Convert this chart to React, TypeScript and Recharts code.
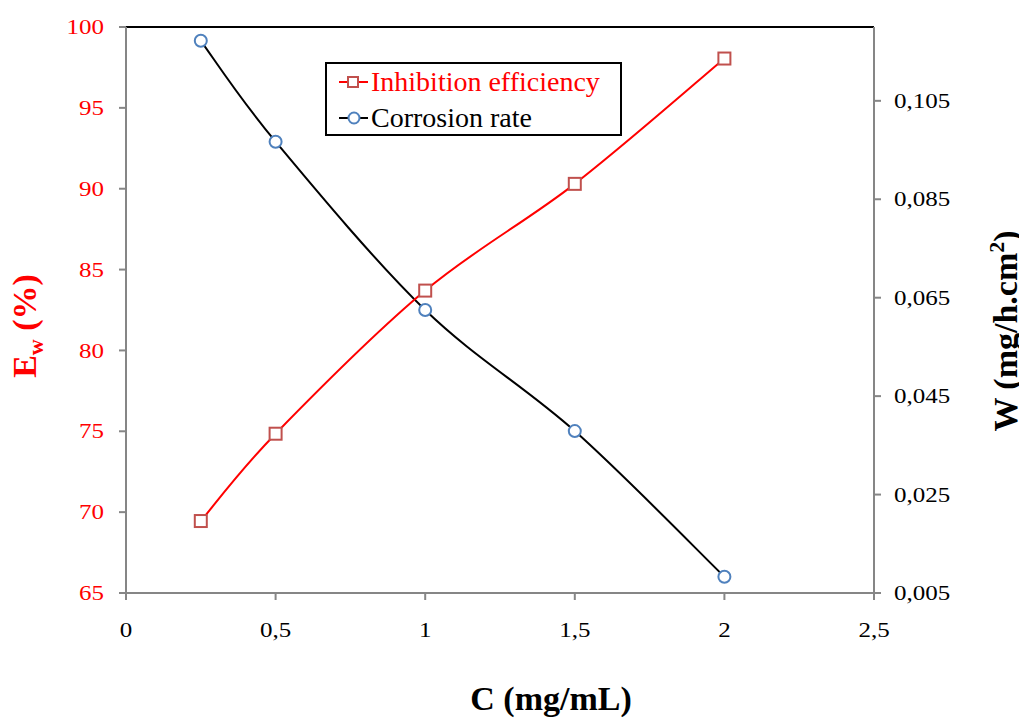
import React from 'react';
import { LineChart, Line, XAxis, YAxis, Legend, ReferenceLine, Label } from 'recharts';

const cValues = [0.25, 0.5, 1, 1.5, 2];
const efficiency = [69.45, 74.85, 83.7, 90.3, 98.05];
const corrosionRate = [0.1172, 0.0967, 0.0625, 0.0379, 0.0083];
const xTicks = [0, 0.5, 1, 1.5, 2, 2.5];
const leftTicks = [65, 70, 75, 80, 85, 90, 95, 100];
const rightTicks = [0.005, 0.025, 0.045, 0.065, 0.085, 0.105];

const data = cValues.map((c, i) => ({ c, eff: efficiency[i], cr: corrosionRate[i] }));

const FONT = "'Liberation Serif', 'Times New Roman', serif";
const AXIS_GRAY = '#868686';
const W = 1019;
const H = 710;

// Excel-like smoothing (Catmull-Rom bezier)
const excelCurve = (context: any) => {
  let pts: number[][] = [];
  return {
    areaStart() {},
    areaEnd() {},
    lineStart() { pts = []; },
    point(x: number, y: number) { pts.push([+x, +y]); },
    lineEnd() {
      if (!pts.length) return;
      context.moveTo(pts[0][0], pts[0][1]);
      for (let i = 0; i < pts.length - 1; i++) {
        const p0 = pts[i - 1] || pts[i];
        const p1 = pts[i];
        const p2 = pts[i + 1];
        const p3 = pts[i + 2] || p2;
        context.bezierCurveTo(
          p1[0] + (p2[0] - p0[0]) / 6, p1[1] + (p2[1] - p0[1]) / 6,
          p2[0] - (p3[0] - p1[0]) / 6, p2[1] - (p3[1] - p1[1]) / 6,
          p2[0], p2[1]
        );
      }
    },
  };
};

const fmtComma = (v: number) => String(v).replace('.', ',');
const fmtRight = (v: number) => v.toFixed(3).replace('.', ',');

const makeTick = (anchor: string, color: string, fmt: (v: number) => string) => (props: any) => {
  const { x, y, payload } = props;
  return (
    <text
      transform={`translate(${x}, ${y}) scale(1.22, 1)`}
      x={0}
      y={0}
      dy="0.35em"
      textAnchor={anchor}
      fill={color}
      fontSize={20.5}
      fontFamily={FONT}
    >
      {fmt(payload.value)}
    </text>
  );
};

const SquareDot = (props: any) => {
  const { cx, cy, index } = props;
  if (cx == null || cy == null) return null;
  return <rect key={`sq-${index}`} x={cx - 6} y={cy - 6} width={12} height={12} fill="#fff" stroke="#C0504D" strokeWidth={2} />;
};

const renderLegend = () => (
  <div style={{ width: 297, height: 74, border: '2px solid #000', boxSizing: 'border-box', background: '#fff', fontFamily: FONT, fontSize: 28, position: 'relative' }}>
    <div style={{ position: 'absolute', left: 0, top: 1, height: 34, display: 'flex', alignItems: 'center' }}>
      <svg width={44} height={34} style={{ display: 'block' }}>
        <line x1={12} y1={17} x2={41} y2={17} stroke="#FF0000" strokeWidth={2} />
        <rect x={21} y={12} width={10} height={10} fill="#fff" stroke="#C0504D" strokeWidth={2} />
      </svg>
      <span style={{ color: '#FF0000', lineHeight: '34px', whiteSpace: 'nowrap' }}>Inhibition efficiency</span>
    </div>
    <div style={{ position: 'absolute', left: 0, top: 37, height: 34, display: 'flex', alignItems: 'center' }}>
      <svg width={44} height={34} style={{ display: 'block' }}>
        <line x1={12} y1={17} x2={41} y2={17} stroke="#000" strokeWidth={2} />
        <circle cx={27} cy={17} r={5.5} fill="#fff" stroke="#4F81BD" strokeWidth={2} />
      </svg>
      <span style={{ color: '#000', lineHeight: '34px', whiteSpace: 'nowrap' }}>Corrosion rate</span>
    </div>
  </div>
);

const LeftTitle = (props: any) => {
  const vb = props.viewBox || { x: 18, y: 19, width: 100, height: 566 };
  const cx = vb.x + 10;
  const cy = vb.y + vb.height / 2 + 16;
  return (
    <text transform={`translate(${cx}, ${cy}) rotate(-90)`} textAnchor="middle" fill="#FF0000" fontWeight="bold" fontSize={34} fontFamily={FONT}>
      E<tspan fontSize={22} dy={7}>w</tspan><tspan dy={-7}> (%)</tspan>
    </text>
  );
};

const RightTitle = (props: any) => {
  const vb = props.viewBox || { x: 866, y: 19, width: 100, height: 566 };
  const cx = vb.x + 143;
  const cy = vb.y + vb.height / 2 + 21;
  return (
    <text transform={`translate(${cx}, ${cy}) rotate(-90)`} textAnchor="middle" fill="#000" fontWeight="bold" fontSize={34} fontFamily={FONT}>
      W (mg/h.cm<tspan fontSize={22} dy={-13}>2</tspan><tspan dy={13}>)</tspan>
    </text>
  );
};

const BottomTitle = (props: any) => {
  const vb = props.viewBox || { x: 118, y: 585, width: 748, height: 60 };
  const cx = vb.x + 425;
  const cy = vb.y + 117;
  return (
    <text x={cx} y={cy} textAnchor="middle" fill="#000" fontWeight="bold" fontSize={34} fontFamily={FONT}>
      C (mg/mL)
    </text>
  );
};

export default function App() {
  return (
    <div style={{ width: W, height: H, position: 'relative', fontFamily: FONT }}>
      <LineChart width={W} height={H} data={data} margin={{ top: 19, right: 53, bottom: 65, left: 18 }}>
        <XAxis
          dataKey="c"
          type="number"
          domain={[0, 2.5]}
          ticks={xTicks}
          allowDataOverflow
          height={60}
          axisLine={{ stroke: AXIS_GRAY, strokeWidth: 2 }}
          tickLine={{ stroke: AXIS_GRAY, strokeWidth: 2 }}
          tickSize={7}
          tickMargin={30}
          tick={makeTick('middle', '#000', fmtComma)}
          interval={0}
        >
          <Label content={<BottomTitle />} />
        </XAxis>
        <YAxis
          yAxisId="left"
          orientation="left"
          domain={[65, 100]}
          ticks={leftTicks}
          allowDataOverflow
          width={100}
          axisLine={{ stroke: AXIS_GRAY, strokeWidth: 2 }}
          tickLine={{ stroke: AXIS_GRAY, strokeWidth: 2 }}
          tickSize={7}
          tickMargin={15}
          tick={makeTick('end', '#FF0000', fmtComma)}
          interval={0}
        >
          <Label content={<LeftTitle />} />
        </YAxis>
        <YAxis
          yAxisId="right"
          orientation="right"
          domain={[0.005, 0.12]}
          ticks={rightTicks}
          allowDataOverflow
          width={100}
          axisLine={{ stroke: AXIS_GRAY, strokeWidth: 2 }}
          tickLine={{ stroke: AXIS_GRAY, strokeWidth: 2 }}
          tickSize={7}
          tickMargin={13}
          tick={makeTick('start', '#000', fmtRight)}
          interval={0}
        >
          <Label content={<RightTitle />} />
        </YAxis>
        <ReferenceLine yAxisId="left" y={100} stroke="#000" strokeWidth={2} />
        <Line
          yAxisId="right"
          dataKey="cr"
          type={excelCurve as any}
          stroke="#000"
          strokeWidth={2}
          dot={{ r: 6, fill: '#fff', stroke: '#4F81BD', strokeWidth: 2 }}
          activeDot={false}
          isAnimationActive={false}
          name="Corrosion rate"
        />
        <Line
          yAxisId="left"
          dataKey="eff"
          type={excelCurve as any}
          stroke="#FF0000"
          strokeWidth={2}
          dot={<SquareDot />}
          activeDot={false}
          isAnimationActive={false}
          name="Inhibition efficiency"
        />
        <Legend
          layout="vertical"
          align="center"
          verticalAlign="middle"
          content={renderLegend}
          wrapperStyle={{ position: 'absolute', left: 317, top: 54, width: 297, height: 74 }}
        />
      </LineChart>
    </div>
  );
}
